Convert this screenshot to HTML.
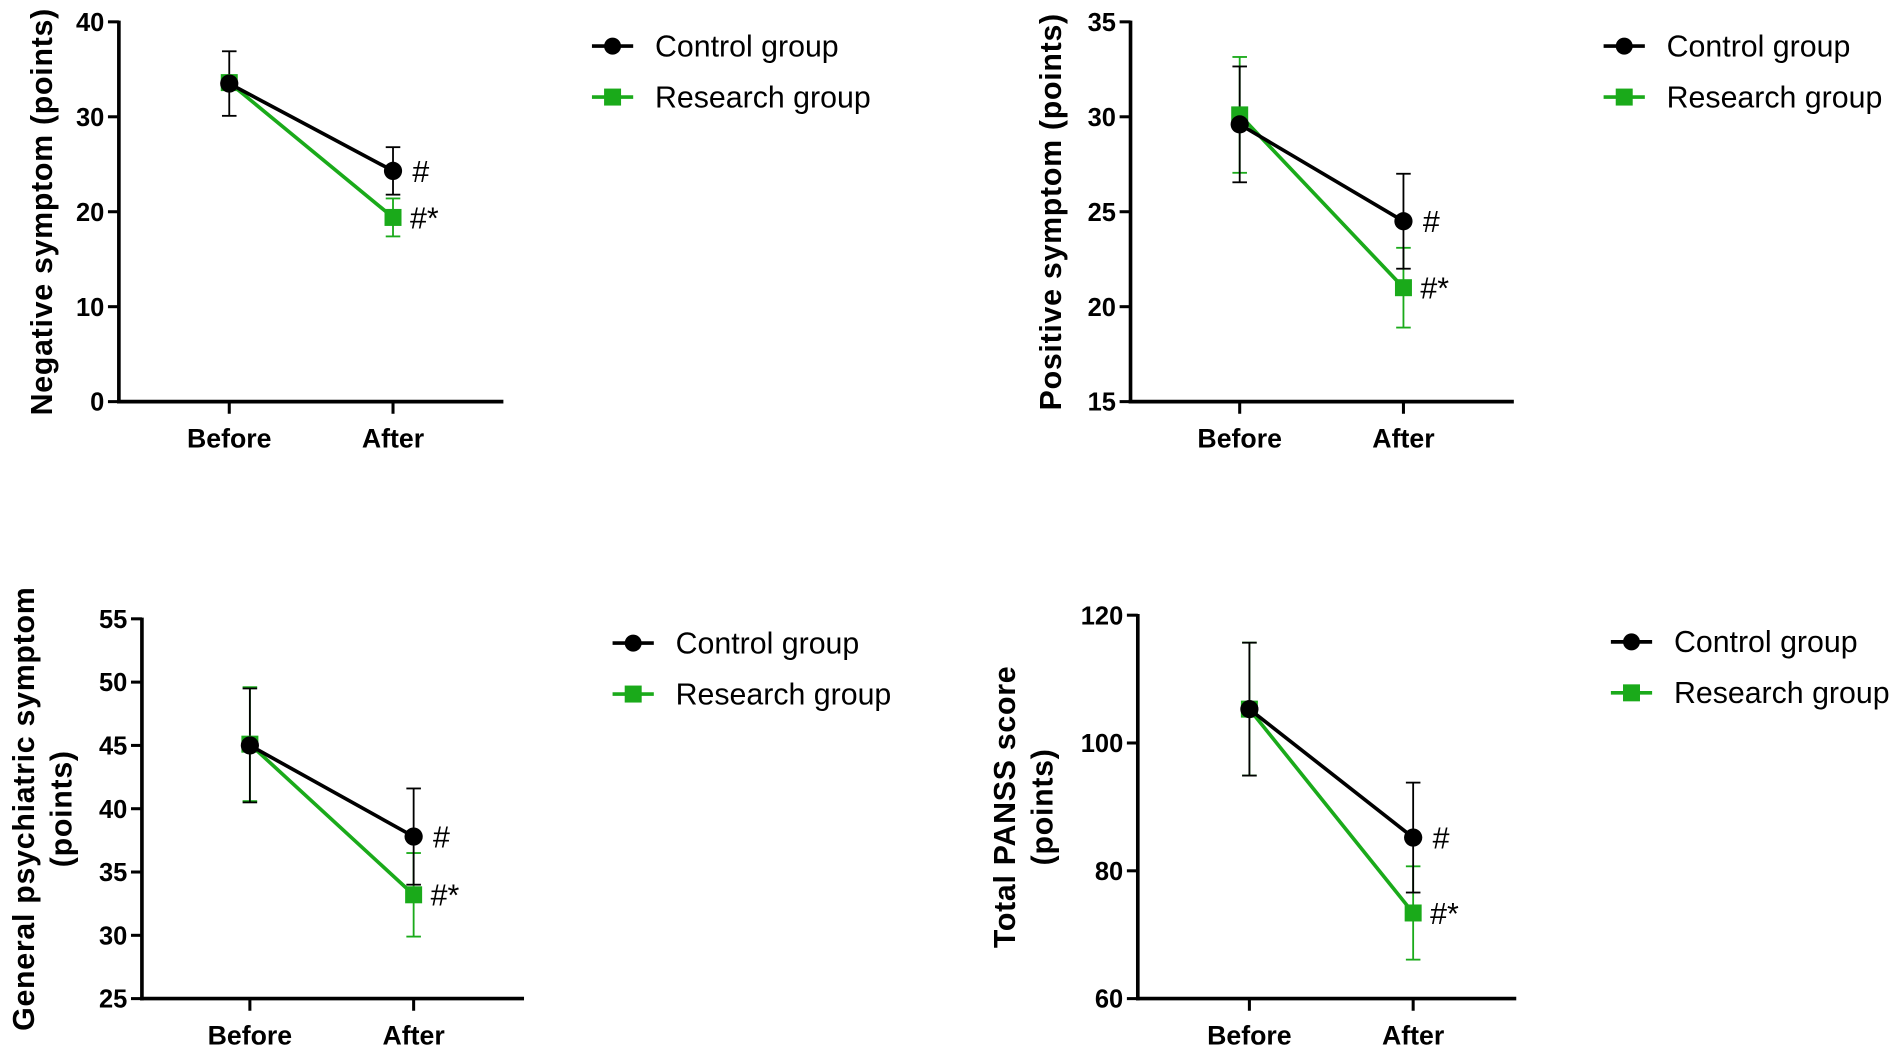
<!DOCTYPE html>
<html><head><meta charset="utf-8"><style>
html,body{margin:0;padding:0;background:#fff;}
svg{display:block;font-family:"Liberation Sans",Arial,sans-serif;}
</style></head><body>
<svg id="fig" width="1902" height="1052" viewBox="0 0 1568 867" preserveAspectRatio="none" xmlns="http://www.w3.org/2000/svg"></svg>
<script>
const categories = ["Before", "After"];
const seriesNames = ["Control group", "Research group"];
// panel 1: Negative symptom
const negControl = [33.5, 24.3];
const negControlErr = [3.4, 2.5];
const negResearch = [33.6, 19.4];
const negResearchErr = [0.7, 2.0];
const negTicks = [0, 10, 20, 30, 40];
// panel 2: Positive symptom
const posControl = [29.6, 24.5];
const posControlErr = [3.05, 2.5];
const posResearch = [30.1, 21.0];
const posResearchErr = [3.05, 2.1];
const posTicks = [15, 20, 25, 30, 35];
// panel 3: General psychiatric
const genControl = [45.0, 37.8];
const genControlErr = [4.5, 3.8];
const genResearch = [45.1, 33.2];
const genResearchErr = [4.5, 3.3];
const genTicks = [25, 30, 35, 40, 45, 50, 55];
// panel 4: Total PANSS
const totControl = [105.3, 85.2];
const totControlErr = [10.4, 8.6];
const totResearch = [105.3, 73.4];
const totResearchErr = [10.4, 7.3];
const totTicks = [60, 80, 100, 120];

const NS = "http://www.w3.org/2000/svg";
const svg = document.getElementById("fig");
const GREEN = "#1aaa1a";
function mk(tag, attrs, parent){
  const e = document.createElementNS(NS, tag);
  for (const k in attrs) e.setAttribute(k, attrs[k]);
  (parent||svg).appendChild(e);
  return e;
}

const panels = [
  {name:"negative", ax:98, top:18, bot:331, xend:415, cx:[189,324], titles:["Negative  symptom (points)"], tx:[35],
   ctrl:negControl, ce:negControlErr, res:negResearch, re:negResearchErr, ticks:negTicks, legX:488, legY:[38,80]},
  {name:"positive", ax:932, top:18, bot:331, xend:1248, cx:[1022,1157], titles:["Positive  symptom (points)"], tx:[867],
   ctrl:posControl, ce:posControlErr, res:posResearch, re:posResearchErr, ticks:posTicks, legX:1322, legY:[38,80]},
  {name:"general", ax:117, top:510, bot:823, xend:432, cx:[206,341], titles:["General psychiatric symptom","(points)"], tx:[20,51],
   ctrl:genControl, ce:genControlErr, res:genResearch, re:genResearchErr, ticks:genTicks, legX:505, legY:[530,572]},
  {name:"total", ax:938, top:507, bot:823, xend:1250, cx:[1030,1165], titles:["Total PANSS score","(points)"], tx:[829,860],
   ctrl:totControl, ce:totControlErr, res:totResearch, re:totResearchErr, ticks:totTicks, legX:1328, legY:[529,571]}
];

panels.forEach(p=>{
  const g = mk("g", {});
  
  
  const tmin = p.ticks[0], tmax = p.ticks[p.ticks.length-1];
  const y = v => p.bot - (v - tmin)/(tmax - tmin)*(p.bot - p.top);
  const x = i => p.cx[i];
  const ya = mk("line", {x1:p.ax, y1:p.top-1, x2:p.ax, y2:p.bot+1.5, stroke:"#000", "stroke-width":3}, g);
  
  
  const xa = mk("line", {x1:p.ax-1.5, y1:p.bot, x2:p.xend, y2:p.bot, stroke:"#000", "stroke-width":3}, g);
  
  
  p.ticks.forEach(t=>{
    mk("line", {x1:p.ax-9, y1:y(t), x2:p.ax, y2:y(t), stroke:"#000", "stroke-width":2.5}, g);
    const tl = mk("text", {x:p.ax-12, y:y(t)+7.5, "text-anchor":"end", "font-size":21, "font-weight":"bold"}, g);
    tl.textContent = t;
    
    
  });
  categories.forEach((c,i)=>{
    mk("line", {x1:x(i), y1:p.bot, x2:x(i), y2:p.bot+10, stroke:"#000", "stroke-width":2.5}, g);
    const cl = mk("text", {x:x(i), y:p.bot+38, "text-anchor":"middle", "font-size":22, "font-weight":"bold"}, g);
    cl.textContent = c;
    
    
  });
  const midY = (p.top + p.bot)/2;
  p.titles.forEach((t,k)=>{
    const tt = mk("text", {x:p.tx[k], y:midY, transform:`rotate(-90 ${p.tx[k]} ${midY})`, "text-anchor":"middle", "font-size":25, "font-weight":"bold", "letter-spacing":0.6, "dominant-baseline":"central"}, g);
    tt.textContent = t;
    
    
  });
  const series = [
    {vals:p.res, err:p.re, color:GREEN, shape:"square", name:"research"},
    {vals:p.ctrl, err:p.ce, color:"#000", shape:"circle", name:"control"}
  ];
  series.forEach(s=>{
    s.vals.forEach((v,i)=>{
      const eb = mk("g", {stroke:s.color, "stroke-width":1.5}, g);
      
      
      mk("line", {x1:x(i), y1:y(v - s.err[i]), x2:x(i), y2:y(v + s.err[i])}, eb);
      mk("line", {x1:x(i)-6, y1:y(v + s.err[i]), x2:x(i)+6, y2:y(v + s.err[i])}, eb);
      mk("line", {x1:x(i)-6, y1:y(v - s.err[i]), x2:x(i)+6, y2:y(v - s.err[i])}, eb);
    });
  });
  series.forEach(s=>{
    const ln = mk("line", {x1:x(0), y1:y(s.vals[0]), x2:x(1), y2:y(s.vals[1]), stroke:s.color, "stroke-width":3}, g);
    
    
    s.vals.forEach((v,i)=>{
      let m;
      if (s.shape === "circle") m = mk("circle", {cx:x(i), cy:y(v), r:7.5, fill:"#000"}, g);
      else m = mk("rect", {x:x(i)-7, y:y(v)-7, width:14, height:14, fill:GREEN}, g);
      
      
    });
  });
  const s1 = mk("text", {x:x(1)+16, y:y(p.ctrl[1])+9, "font-size":25}, g);
  s1.textContent = "#";
  
  
  const s2 = mk("text", {x:x(1)+14, y:y(p.res[1])+9, "font-size":25}, g);
  s2.textContent = "#*";
  
  
  seriesNames.forEach((n,k)=>{
    const lg = mk("g", {}, g);
    
    
    const col = k===0 ? "#000" : GREEN;
    const ly = p.legY[k];
    mk("line", {x1:p.legX, y1:ly, x2:p.legX+34, y2:ly, stroke:col, "stroke-width":3}, lg);
    if (k===0) mk("circle", {cx:p.legX+17, cy:ly, r:7, fill:"#000"}, lg);
    else mk("rect", {x:p.legX+10, y:ly-7, width:14, height:14, fill:GREEN}, lg);
    const lt = mk("text", {x:p.legX+52, y:ly+8.5, "font-size":25}, lg);
    lt.textContent = n;
  });
});
</script>
</body></html>
